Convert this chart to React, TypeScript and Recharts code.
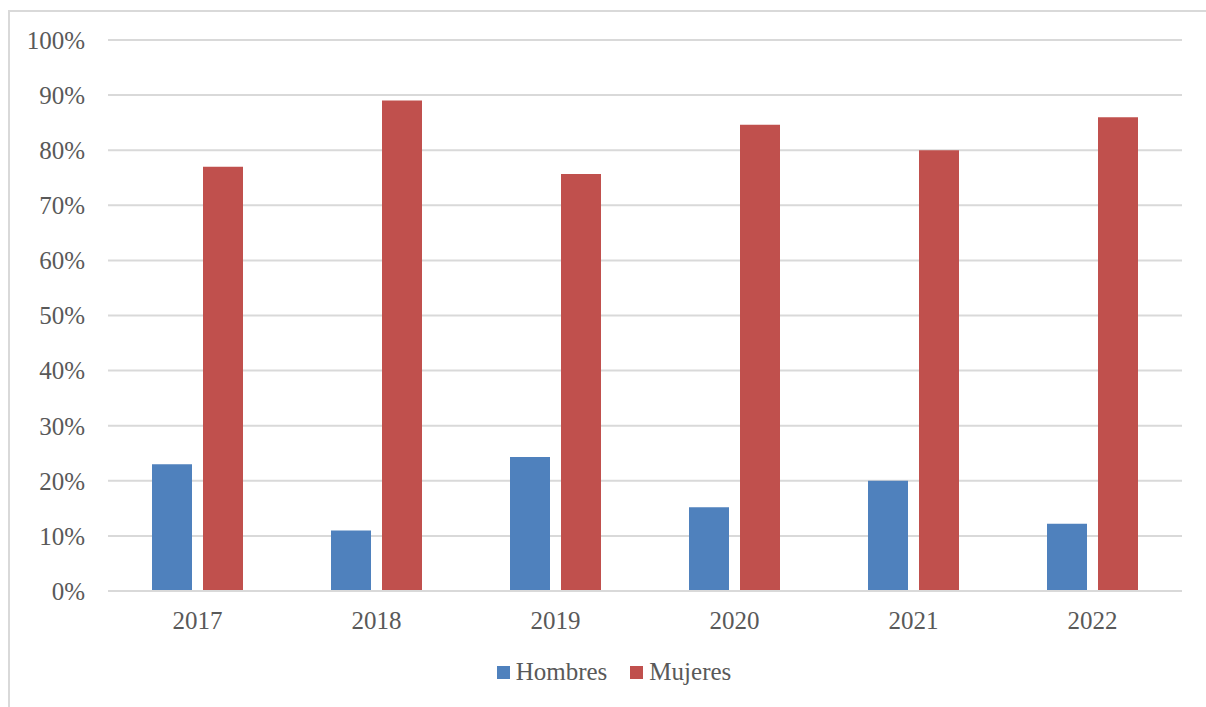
import React from 'react';
import { BarChart, Bar, XAxis, YAxis, CartesianGrid, Legend } from 'recharts';

const years = ['2017', '2018', '2019', '2020', '2021', '2022'];
const hombres = [23, 11, 24.3, 15.2, 20, 12.2];
const mujeres = [77, 89, 75.7, 84.6, 80, 86];
const yTicks = [0, 10, 20, 30, 40, 50, 60, 70, 80, 90, 100];

const data = years.map((year, i) => ({ year, Hombres: hombres[i], Mujeres: mujeres[i] }));

const FONT = '"Liberation Serif", "DejaVu Serif", serif';
const TEXT = '#595959';

// legend drawn as a simple row of square + label
const renderLegend = (props: any) => {
  const { payload } = props;
  return (
    <div style={{ display: 'flex', justifyContent: 'center', alignItems: 'center', fontFamily: FONT, fontSize: 25, color: TEXT }}>
      {payload.map((entry: any, i: number) => (
        <div key={i} style={{ display: 'flex', alignItems: 'center', marginRight: i === 0 ? 23 : 0 }}>
          <span style={{ display: 'inline-block', width: 13, height: 13, background: entry.color, marginRight: 6 }} />
          <span>{entry.value}</span>
        </div>
      ))}
    </div>
  );
};

export default function App() {
  return (
    <div
      style={{
        position: 'absolute',
        left: 8,
        top: 10,
        width: 1198,
        height: 697,
        borderTop: '2px solid #d9d9d9',
        borderLeft: '2px solid #d9d9d9',
        boxSizing: 'border-box',
        background: '#fff',
        overflow: 'hidden',
      }}
    >
      <BarChart
        width={1196}
        height={720}
        data={data}
        margin={{ top: 28, right: 24, bottom: 83, left: 0 }}
        barCategoryGap={44}
        barGap={11}
      >
        <CartesianGrid vertical={false} stroke="#d9d9d9" strokeWidth={2} />
        <XAxis
          dataKey="year"
          axisLine={{ stroke: '#d9d9d9', strokeWidth: 2 }}
          tickLine={false}
          tickSize={0}
          tickMargin={20}
          tick={{ fill: TEXT, fontSize: 25, fontFamily: FONT }}
        />
        <YAxis
          width={98}
          domain={[0, 100]}
          ticks={yTicks}
          interval={0}
          axisLine={false}
          tickLine={false}
          tickSize={0}
          tickMargin={23}
          tickFormatter={(v: number) => `${v}%`}
          tick={{ fill: TEXT, fontSize: 25, fontFamily: FONT }}
        />
        <Legend
          content={renderLegend}
          wrapperStyle={{ top: 646, left: 0, width: 1208 }}
        />
        <Bar dataKey="Hombres" fill="#4F81BD" isAnimationActive={false} />
        <Bar dataKey="Mujeres" fill="#C0504D" isAnimationActive={false} />
      </BarChart>
    </div>
  );
}
